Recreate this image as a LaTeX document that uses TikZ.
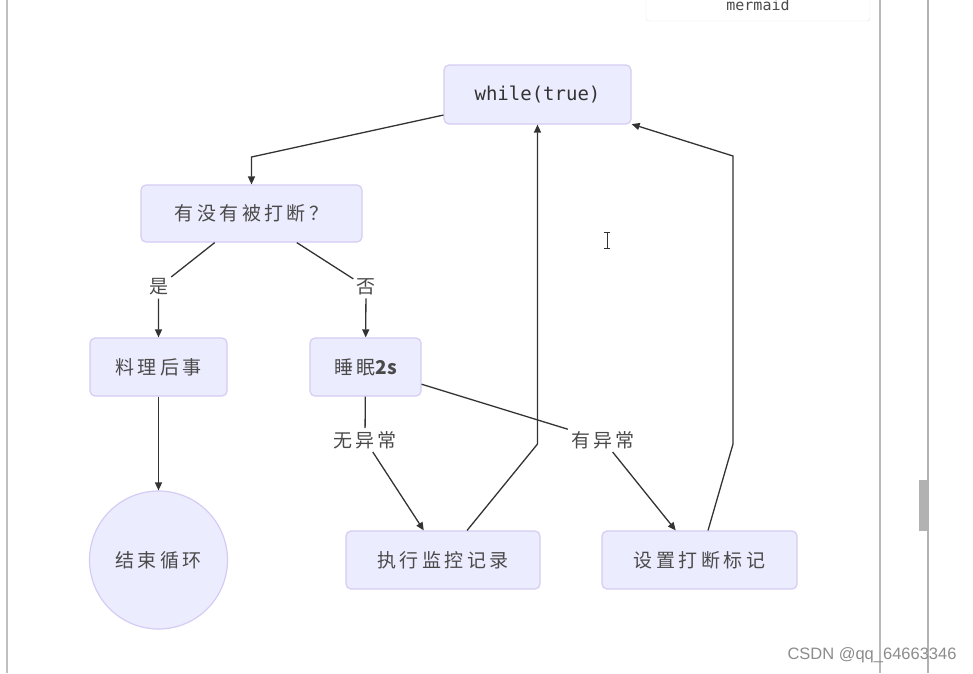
\documentclass[tikz,border=0pt]{standalone}
\usepackage{fontspec}
\usetikzlibrary{arrows.meta}
\newfontfamily\cjk[LetterSpace=18]{Noto Sans CJK SC}
\newfontfamily\cjkplain{Noto Sans CJK SC}
\newfontfamily\codefont{DejaVu Sans Mono}
\newfontfamily\wmfont{Liberation Sans}
\definecolor{nodefill}{HTML}{ECECFF}
\definecolor{nodeline}{HTML}{D4CCF4}
\definecolor{txt}{HTML}{4A4A4A}
\definecolor{edgecol}{HTML}{333333}

\begin{document}
\begin{tikzpicture}[x=1pt, y=-1pt,
    flowbox/.style={draw=nodeline, fill=nodefill, line width=1.2pt, rounded corners=5pt,
      text=txt, font=\cjk\fontsize{19}{22}\selectfont, inner sep=0pt, minimum height=58pt},
    endcircle/.style={circle, draw=nodeline, fill=nodefill, line width=1.2pt,
      text=txt, font=\cjk\fontsize{19}{22}\selectfont, inner sep=0pt, minimum size=138pt},
    lbl/.style={fill=white, text=txt, font=\cjk\fontsize{19}{22}\selectfont, inner sep=3pt},
    edge/.style={draw=edgecol, line width=1.3pt},
    arrow/.style={edge, -{Triangle[length=8pt, width=7pt]}}]
    \useasboundingbox (0,0) rectangle (973,673);

    % Draw window frame
    \draw[gray!50, line width=1.5pt] (7,0) -- (7,673);
    \draw[gray!55, line width=1.5pt] (880,0) -- (880,673);
    \draw[gray!60, line width=1.5pt] (928,0) -- (928,673);
    \fill[gray!60] (919,480) rectangle (928,531);
    \draw[gray!20, fill=white, rounded corners=3pt] (646,-6) rectangle (870,21);
    \node[font=\codefont\fontsize{15}{16}\selectfont, text=txt, anchor=base] (brand) at (758,10) {mermaid};

    % Draw nodes
    \node[flowbox, minimum width=187pt, minimum height=59pt, text=edgecol, font=\codefont\fontsize{19}{22}\selectfont] (loop) at (537.5,94.5) {while(true)};
    \node[flowbox, minimum width=221pt, minimum height=57pt] (check) at (251.5,213.5) {有没有被打断？};
    \node[flowbox, minimum width=137pt] (cleanup) at (158.5,367) {料理后事};
    \node[flowbox, minimum width=111pt] (sleep) at (365.5,367) {睡眠{\cjkplain\bfseries 2s}};
    \node[endcircle] (stop) at (158.5,560) {结束循环};
    \node[flowbox, minimum width=194pt] (monitor) at (443,560) {执行监控记录};
    \node[flowbox, minimum width=195pt] (setflag) at (699.5,560) {设置打断标记};

    % Draw edge labels
    \node[lbl] (yes) at (158.5,287) {是};
    \node[lbl] (no) at (366,287) {否};
    \node[lbl] (noexc) at (365,440) {无异常};
    \node[lbl] (exc) at (603,440) {有异常};

    % Draw edges
    \coordinate (b1) at (251.5,157);
    \coordinate (b2) at (537.5,444);
    \coordinate (b3) at (733,444);
    \coordinate (b4) at (733,156);
    \draw[arrow] (loop) -- (b1) -- (check);
    \draw[arrow] (check) -- (yes) -- (cleanup);
    \draw[arrow] (check) -- (no) -- (sleep);
    \draw[arrow] (cleanup) -- (stop);
    \draw[arrow] (sleep) -- (noexc) -- (monitor);
    \draw[arrow] (sleep) -- (exc) -- (setflag);
    \draw[arrow] (monitor) -- (b2) -- (loop);
    \draw[arrow] (setflag) -- (b3) -- (b4) -- (loop);

    % Draw cursor and watermark
    \draw[edgecol, line width=1pt] (607,232) -- (607,248) (604,232) -- (610,232) (604,248) -- (610,248);
    \node[font=\wmfont\fontsize{16.5}{18}\selectfont, text=gray!90] (mark) at (872,655) {CSDN @qq\_64663346};
\end{tikzpicture}
\end{document}
